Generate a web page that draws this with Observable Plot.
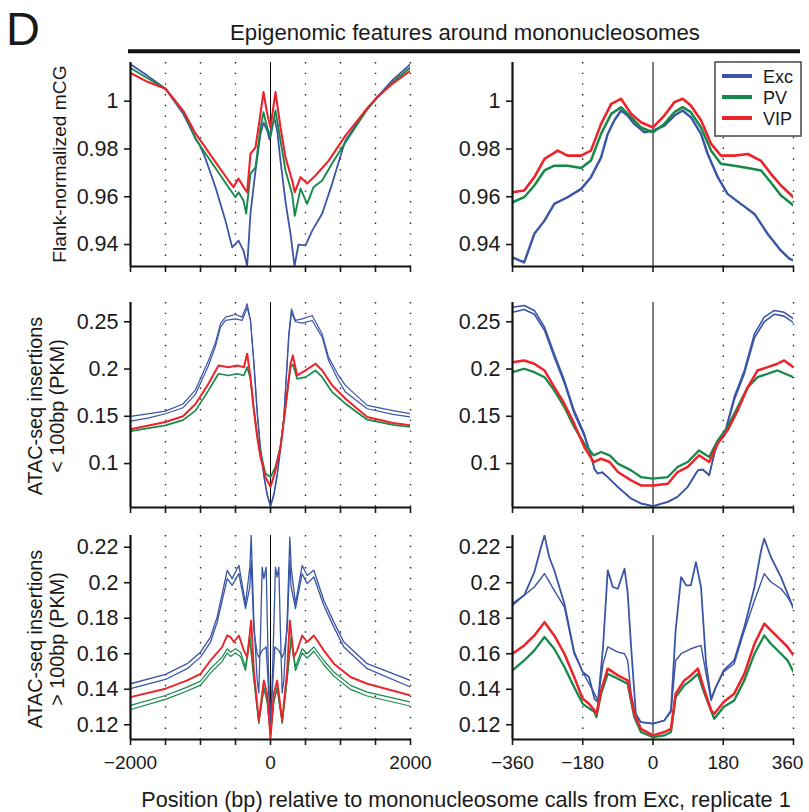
<!DOCTYPE html>
<html><head><meta charset="utf-8">
<script src="https://cdn.jsdelivr.net/npm/d3@7"></script>
<script src="https://cdn.jsdelivr.net/npm/@observablehq/plot@0.6"></script>
<style>
body{margin:0;background:#fff}
#fig{position:relative;width:809px;height:812px;font-family:"Liberation Sans",Arial,sans-serif;color:#1a1a1a;overflow:hidden}
#fig > svg{position:absolute}
</style>
</head><body><div id="fig"></div>
<script>
// ---------- categories / labels ----------
const categories = ["Exc", "PV", "VIP"];
const catColors = ["#3a55a6", "#17894a", "#ec2328"];
const titleText = "Epigenomic features around mononucleosomes";
const xAxisTitle = "Position (bp) relative to mononucleosome calls from Exc, replicate 1";
const rowLabels = [["Flank-normalized mCG"], ["ATAC-seq insertions", "< 100bp (PKM)"], ["ATAC-seq insertions", "> 100bp (PKM)"]];
const wideTicks = [-2000, -1500, -1000, -500, 0, 500, 1000, 1500, 2000];
const wideLabelled = [-2000, 0, 2000];
const narrowTicks = [-360, -180, 0, 180, 360];
const yTicksRow = [[0.94, 0.96, 0.98, 1], [0.1, 0.15, 0.2, 0.25], [0.12, 0.14, 0.16, 0.18, 0.2, 0.22]];
const yDomains = [[0.9308, 1.0162], [0.0535, 0.2704], [0.1117, 0.2266]];

// ---------- Row 1: flank-normalized mCG, wide window ----------
const mcgExcWide = [[-2000,1.0155],[-1750,1.0105],[-1500,1.0052],[-1243,0.9945],[-1071,0.9845],[-1000,0.981],[-929,0.976],[-786,0.964],[-643,0.950],[-547,0.9388],[-457,0.9416],[-386,0.9374],[-333,0.931],[-286,0.953],[-214,0.971],[-143,0.9864],[-100,0.991],[-47,0.9877],[-14,0.984],[14,0.989],[57,0.9927],[96,0.9877],[143,0.975],[214,0.958],[286,0.9445],[343,0.931],[400,0.940],[500,0.9396],[596,0.9458],[739,0.953],[881,0.9655],[1024,0.9794],[1071,0.9835],[1381,0.997],[1524,1.0017],[1750,1.009],[2000,1.0155]];
const mcgPvWide = [[-2000,1.0139],[-1750,1.0095],[-1500,1.0052],[-1243,0.9955],[-1071,0.9842],[-833,0.974],[-600,0.964],[-500,0.9598],[-457,0.9619],[-386,0.9584],[-347,0.953],[-286,0.9697],[-214,0.9723],[-143,0.989],[-100,0.9954],[-47,0.989],[0,0.985],[71,0.9961],[143,0.9835],[214,0.971],[310,0.961],[347,0.952],[429,0.9634],[524,0.957],[614,0.964],[739,0.9668],[881,0.974],[1071,0.9828],[1381,0.9965],[1524,1.0015],[1750,1.008],[2000,1.0142]];
const mcgVipWide = [[-2000,1.0118],[-1750,1.008],[-1500,1.0052],[-1243,0.9958],[-1071,0.9865],[-833,0.9765],[-600,0.9668],[-529,0.964],[-457,0.9676],[-371,0.9634],[-333,0.9619],[-286,0.978],[-214,0.9807],[-143,0.9948],[-100,1.0038],[-47,0.9948],[0,0.989],[71,1.0038],[143,0.989],[214,0.9765],[310,0.9668],[347,0.9619],[429,0.9682],[524,0.9655],[643,0.9689],[829,0.975],[1071,0.9856],[1381,0.997],[1524,1.0017],[1750,1.0075],[2000,1.0128]];

// ---------- Row 1: narrow window ----------
const mcgExcNarrow = [[-360,0.9346],[-330,0.9325],[-304,0.9445],[-278,0.950],[-253,0.957],[-219,0.9598],[-184,0.9633],[-159,0.9682],[-133,0.9765],[-116,0.9863],[-99,0.992],[-82,0.9961],[-65,0.994],[-48,0.9905],[-22,0.987],[0,0.9877],[29,0.9898],[55,0.994],[76,0.9961],[97,0.9933],[123,0.9863],[140,0.978],[166,0.9682],[191,0.9612],[225,0.957],[260,0.9528],[294,0.9444],[328,0.9374],[350,0.934],[360,0.9333]];
const mcgPvNarrow = [[-360,0.9577],[-330,0.9598],[-304,0.9647],[-278,0.971],[-253,0.973],[-219,0.973],[-184,0.972],[-159,0.9752],[-133,0.9863],[-107,0.9947],[-82,0.9975],[-56,0.9933],[-31,0.989],[0,0.987],[29,0.9905],[55,0.9954],[76,0.9975],[97,0.9954],[123,0.989],[149,0.9793],[174,0.9738],[208,0.973],[243,0.972],[277,0.971],[302,0.966],[328,0.9605],[360,0.9563]];
const mcgVipNarrow = [[-360,0.9619],[-330,0.9626],[-304,0.9682],[-278,0.9759],[-244,0.9793],[-219,0.9772],[-184,0.9772],[-159,0.9793],[-133,0.9905],[-107,0.9989],[-82,1.001],[-56,0.9947],[-31,0.9912],[0,0.989],[29,0.994],[55,0.9996],[76,1.001],[97,0.9982],[123,0.992],[149,0.9821],[174,0.9772],[208,0.9772],[243,0.9779],[277,0.975],[302,0.9696],[328,0.9647],[360,0.9598]];

// ---------- Row 2: ATAC < 100bp, wide window ----------
const shortExcAWide = [[-2000,0.1499],[-1750,0.1525],[-1500,0.1555],[-1250,0.163],[-1071,0.178],[-886,0.2091],[-786,0.228],[-714,0.248],[-643,0.2549],[-500,0.2577],[-405,0.2549],[-333,0.269],[-286,0.2514],[-238,0.209],[-190,0.1562],[-143,0.1175],[-95,0.0894],[-48,0.0682],[0,0.0558],[48,0.0682],[95,0.0894],[143,0.118],[190,0.149],[261,0.2376],[300,0.2637],[357,0.2514],[452,0.2531],[595,0.2567],[738,0.2373],[829,0.2126],[971,0.1932],[1071,0.1827],[1381,0.1615],[1750,0.156],[2000,0.1527]];
const shortExcBWide = [[-2000,0.1449],[-1750,0.148],[-1500,0.1527],[-1250,0.159],[-1071,0.1735],[-886,0.2038],[-786,0.224],[-714,0.2443],[-643,0.2514],[-500,0.2531],[-405,0.2514],[-333,0.265],[-286,0.2514],[-238,0.205],[-190,0.152],[-143,0.113],[-95,0.086],[-48,0.066],[0,0.054],[48,0.066],[95,0.086],[143,0.114],[190,0.146],[261,0.233],[300,0.26],[357,0.25],[452,0.2486],[595,0.2514],[738,0.2338],[829,0.2091],[971,0.1879],[1071,0.1756],[1381,0.158],[1750,0.152],[2000,0.1492]];
const shortPvWide = [[-2000,0.1344],[-1500,0.1404],[-1250,0.146],[-1071,0.156],[-886,0.1774],[-743,0.195],[-600,0.1932],[-476,0.195],[-381,0.1932],[-333,0.202],[-286,0.19],[-238,0.158],[-190,0.13],[-143,0.1122],[-71,0.0894],[0,0.0857],[71,0.0964],[143,0.118],[214,0.16],[286,0.202],[319,0.205],[381,0.1897],[500,0.1914],[643,0.1985],[739,0.1914],[881,0.1756],[1071,0.1633],[1381,0.1464],[1750,0.141],[2000,0.1386]];
const shortVipWide = [[-2000,0.1362],[-1500,0.1439],[-1250,0.150],[-1071,0.163],[-886,0.1845],[-743,0.2038],[-600,0.202],[-476,0.2038],[-381,0.202],[-333,0.2162],[-286,0.1914],[-238,0.1562],[-190,0.1281],[-143,0.1069],[-71,0.0857],[0,0.0752],[71,0.0928],[143,0.1175],[214,0.1598],[286,0.2056],[319,0.2144],[381,0.1932],[500,0.1985],[643,0.2056],[739,0.1985],[881,0.1827],[1071,0.1686],[1381,0.1492],[1750,0.143],[2000,0.1404]];

// ---------- Row 2: narrow window ----------
const shortExcANarrow = [[-360,0.2654],[-330,0.2672],[-304,0.262],[-278,0.2443],[-253,0.2162],[-227,0.188],[-202,0.1562],[-176,0.1316],[-160,0.11],[-150,0.0946],[-142,0.0893],[-130,0.091],[-116,0.0858],[-90,0.0752],[-56,0.0629],[-31,0.0576],[0,0.0548],[38,0.0594],[63,0.0646],[89,0.0752],[115,0.0928],[127,0.0935],[144,0.0875],[157,0.1105],[166,0.1245],[183,0.1316],[208,0.1703],[234,0.1985],[260,0.2373],[285,0.2549],[311,0.262],[336,0.26],[360,0.2532]];
const shortExcBNarrow = [[-360,0.260],[-330,0.263],[-304,0.258],[-278,0.241],[-253,0.2125],[-227,0.185],[-202,0.153],[-176,0.129],[-160,0.109],[-150,0.094],[-142,0.0895],[-130,0.0905],[-116,0.0855],[-90,0.075],[-56,0.063],[-31,0.058],[0,0.055],[38,0.0595],[63,0.065],[89,0.0755],[115,0.093],[127,0.094],[144,0.088],[157,0.11],[166,0.123],[183,0.129],[208,0.167],[234,0.195],[260,0.233],[285,0.25],[311,0.258],[336,0.256],[360,0.249]];
const shortPvNarrow = [[-360,0.1967],[-330,0.2003],[-304,0.1967],[-278,0.1914],[-253,0.1774],[-227,0.1597],[-202,0.1386],[-176,0.1211],[-152,0.1087],[-133,0.1122],[-111,0.1087],[-90,0.0999],[-56,0.0928],[-31,0.0857],[0,0.084],[38,0.0857],[63,0.0964],[89,0.1016],[118,0.1139],[144,0.1069],[166,0.1245],[191,0.1386],[217,0.1597],[243,0.1809],[268,0.1914],[294,0.195],[319,0.1985],[360,0.1914]];
const shortVipNarrow = [[-360,0.2073],[-330,0.2091],[-304,0.2056],[-278,0.1985],[-253,0.1809],[-227,0.1633],[-202,0.1422],[-176,0.1175],[-152,0.1016],[-133,0.1051],[-111,0.1016],[-90,0.091],[-56,0.0822],[-31,0.0769],[0,0.0769],[38,0.0787],[63,0.091],[89,0.0964],[118,0.1087],[144,0.1016],[166,0.1211],[191,0.1351],[217,0.1562],[243,0.1809],[268,0.1985],[294,0.202],[319,0.2056],[336,0.2091],[360,0.202]];

// ---------- Row 3: ATAC > 100bp, wide window ----------
const longExcAWide = [[-2000,0.1431],[-1500,0.1484],[-1190,0.1544],[-1000,0.1609],[-857,0.1694],[-762,0.1807],[-690,0.1938],[-619,0.207],[-548,0.2023],[-452,0.2098],[-357,0.1882],[-295,0.2088],[-276,0.2267],[-238,0.1788],[-190,0.145],[-167,0.138],[-140,0.175],[-119,0.2088],[-95,0.2023],[-62,0.2088],[-30,0.1506],[0,0.1187],[30,0.1506],[71,0.2088],[95,0.2032],[119,0.2088],[140,0.175],[167,0.138],[190,0.145],[238,0.1788],[276,0.2257],[295,0.2088],[357,0.1882],[452,0.2098],[524,0.2041],[619,0.207],[762,0.19],[905,0.1778],[1048,0.1666],[1381,0.1544],[2000,0.145]];
const longExcBWide = [[-2000,0.1403],[-1500,0.1455],[-1190,0.1516],[-1000,0.1581],[-857,0.1666],[-762,0.1778],[-690,0.19],[-619,0.2023],[-548,0.1985],[-452,0.2051],[-357,0.1854],[-295,0.1976],[-276,0.2126],[-238,0.1731],[-190,0.16],[-167,0.1581],[-119,0.1619],[-62,0.1638],[-30,0.1412],[0,0.1206],[30,0.1412],[62,0.1638],[119,0.1619],[167,0.1581],[190,0.16],[238,0.1731],[276,0.2126],[295,0.1976],[357,0.1854],[452,0.2051],[524,0.1995],[619,0.2032],[762,0.1872],[905,0.175],[1048,0.1638],[1381,0.1516],[2000,0.1412]];
const longPvAWide = [[-2000,0.1309],[-1500,0.1365],[-1190,0.1412],[-1000,0.1446],[-857,0.1516],[-690,0.1581],[-619,0.1628],[-571,0.1609],[-500,0.1628],[-429,0.1609],[-357,0.1525],[-295,0.1703],[-238,0.1469],[-167,0.1215],[-95,0.1412],[-48,0.1337],[0,0.1149],[48,0.1337],[95,0.1412],[167,0.1215],[238,0.1469],[295,0.1703],[357,0.1525],[452,0.1628],[524,0.16],[619,0.1638],[762,0.1562],[905,0.1497],[1143,0.1422],[1381,0.1384],[2000,0.1328]];
const longPvBWide = [[-2000,0.1286],[-1500,0.1343],[-1190,0.139],[-1000,0.1423],[-857,0.1491],[-690,0.1557],[-619,0.1604],[-571,0.1585],[-500,0.1604],[-429,0.1585],[-357,0.1506],[-295,0.1675],[-238,0.145],[-167,0.1206],[-95,0.1403],[-48,0.1328],[0,0.114],[48,0.1328],[95,0.1403],[167,0.1206],[238,0.145],[295,0.1675],[357,0.1506],[452,0.1604],[524,0.1576],[619,0.1614],[762,0.1538],[905,0.1474],[1143,0.1399],[1381,0.1362],[2000,0.1305]];
const longVipWide = [[-2000,0.1356],[-1500,0.1403],[-1190,0.145],[-1000,0.1487],[-857,0.1562],[-690,0.1638],[-619,0.1703],[-571,0.1694],[-524,0.1666],[-452,0.1703],[-381,0.1619],[-333,0.1581],[-276,0.1788],[-238,0.1506],[-167,0.1224],[-95,0.145],[-48,0.1375],[0,0.1121],[48,0.1375],[95,0.145],[167,0.1224],[238,0.1506],[276,0.1788],[333,0.1581],[381,0.1619],[452,0.1703],[524,0.1666],[619,0.1703],[762,0.1619],[905,0.1544],[1143,0.1469],[1381,0.1431],[2000,0.1365]];

// ---------- Row 3: narrow window ----------
const longExcANarrow = [[-360,0.1882],[-330,0.1929],[-304,0.206],[-287,0.22],[-278,0.2267],[-266,0.2145],[-253,0.207],[-227,0.1882],[-202,0.161],[-180,0.1497],[-164,0.1469],[-150,0.1346],[-141,0.1328],[-128,0.1638],[-116,0.207],[-103,0.1976],[-90,0.1966],[-73,0.2079],[-65,0.1947],[-56,0.1638],[-44,0.1262],[-31,0.1215],[0,0.1206],[29,0.1224],[46,0.128],[58,0.1731],[72,0.2032],[85,0.1985],[97,0.1985],[110,0.2116],[123,0.1976],[136,0.1544],[149,0.1346],[161,0.1412],[181,0.1506],[208,0.1562],[234,0.175],[260,0.1976],[277,0.2182],[285,0.2248],[302,0.2145],[328,0.2032],[345,0.1938],[360,0.1854]];
const longExcBNarrow = [[-360,0.1872],[-330,0.1929],[-304,0.1976],[-278,0.2051],[-253,0.1957],[-227,0.1863],[-202,0.16],[-180,0.1497],[-150,0.1375],[-141,0.1337],[-128,0.1544],[-116,0.1638],[-90,0.1609],[-73,0.16],[-65,0.1562],[-56,0.1375],[-44,0.1243],[-31,0.1215],[0,0.1206],[29,0.1224],[46,0.1271],[58,0.1562],[72,0.16],[97,0.1628],[123,0.1647],[136,0.1487],[149,0.1337],[161,0.1412],[181,0.1497],[208,0.1544],[234,0.173],[260,0.19],[285,0.2051],[302,0.2004],[328,0.1966],[345,0.1919],[360,0.1863]];
const longPvNarrow = [[-360,0.1506],[-330,0.1562],[-304,0.1619],[-278,0.1694],[-253,0.1628],[-227,0.1525],[-202,0.1412],[-180,0.1318],[-150,0.1271],[-145,0.1243],[-133,0.1375],[-116,0.1487],[-90,0.1459],[-65,0.1431],[-48,0.1243],[-31,0.1159],[0,0.113],[29,0.114],[46,0.1159],[58,0.1356],[80,0.1422],[97,0.145],[115,0.1487],[132,0.1375],[157,0.1234],[181,0.13],[208,0.1337],[234,0.145],[260,0.16],[285,0.1703],[302,0.1656],[328,0.16],[345,0.1562],[360,0.1497]];
const longVipNarrow = [[-360,0.16],[-330,0.1647],[-304,0.1703],[-278,0.1778],[-253,0.1703],[-227,0.16],[-202,0.1469],[-180,0.1346],[-164,0.1318],[-150,0.1281],[-145,0.1262],[-133,0.1393],[-116,0.1516],[-90,0.1478],[-65,0.145],[-48,0.1262],[-31,0.1177],[0,0.114],[29,0.1159],[46,0.1177],[58,0.1375],[80,0.145],[97,0.1478],[115,0.1516],[132,0.1393],[149,0.1281],[157,0.1262],[181,0.1328],[208,0.1375],[234,0.1487],[260,0.1656],[285,0.1769],[302,0.1731],[328,0.1675],[345,0.1638],[360,0.1591]];

// ---------- panel assembly ----------
const panels = [
  {row: 0, col: 0, series: [[mcgExcWide, 0, 1.8], [mcgPvWide, 1, 1.9], [mcgVipWide, 2, 2.1]]},
  {row: 0, col: 1, series: [[mcgExcNarrow, 0, 2.4], [mcgPvNarrow, 1, 2.5], [mcgVipNarrow, 2, 2.6]]},
  {row: 1, col: 0, series: [[shortExcAWide, 0, 1.2], [shortExcBWide, 0, 1.2], [shortPvWide, 1, 1.7], [shortVipWide, 2, 2.0]]},
  {row: 1, col: 1, series: [[shortExcANarrow, 0, 1.6], [shortExcBNarrow, 0, 1.6], [shortPvNarrow, 1, 2.3], [shortVipNarrow, 2, 2.5]]},
  {row: 2, col: 0, series: [[longExcAWide, 0, 1.3], [longExcBWide, 0, 1.3], [longPvAWide, 1, 1.2], [longPvBWide, 1, 1.2], [longVipWide, 2, 1.9]]},
  {row: 2, col: 1, series: [[longExcANarrow, 0, 1.8], [longExcBNarrow, 0, 1.4], [longPvNarrow, 1, 2.3], [longVipNarrow, 2, 2.5]]}
];

const fig = document.getElementById("fig");
const minus = d => d < 0 ? "\u2212" + (-d) : String(d);
const colBox = [{left: 0, width: 412, ml: 130, mr: 2}, {left: 412, width: 397, ml: 100, mr: 16}];
const rowBox = [{top: 52, height: 224, mt: 10, mb: 10}, {top: 292, height: 225, mt: 10, mb: 10}, {top: 525, height: 256, mt: 10, mb: 42}];

// overlay with titles, labels
const ov = d3.create("svg").attr("width", 809).attr("height", 812).style("left", "0px").style("top", "0px")
  .style("font-family", '"Liberation Sans", Arial, sans-serif').attr("fill", "#1a1a1a");
ov.append("text").attr("x", 6).attr("y", 45).attr("font-size", 47).text("D");
ov.append("text").attr("x", 465).attr("y", 40).attr("text-anchor", "middle").attr("font-size", 22.2).text(titleText);
ov.append("line").attr("x1", 128).attr("x2", 800).attr("y1", 51.3).attr("y2", 51.3).attr("stroke", "#111").attr("stroke-width", 4);
ov.append("text").attr("x", 466).attr("y", 807).attr("text-anchor", "middle").attr("font-size", 21.6).text(xAxisTitle);
const rowCenters = [164, 406, 639];
const rowFont = [19.2, 19.8, 19.8];
rowLabels.forEach((lines, i) => {
  const baselines = lines.length === 1 ? [66] : [42, 64];
  lines.forEach((t, j) => {
    ov.append("text").attr("transform", `translate(${baselines[j]},${rowCenters[i]}) rotate(-90)`)
      .attr("text-anchor", "middle").attr("font-size", rowFont[i]).text(t);
  });
});
fig.appendChild(ov.node());

panels.forEach(p => {
  const c = colBox[p.col], r = rowBox[p.row];
  const wide = p.col === 0;
  const xDomain = wide ? [-2000, 2000] : [-360, 360];
  const xTicks = wide ? wideTicks : narrowTicks;
  const grid = xTicks.filter(t => t !== 0 && t !== xDomain[0]);
  const bottomRow = p.row === 2;
  const chart = Plot.plot({
    width: c.width, height: r.height,
    marginLeft: c.ml, marginRight: c.mr, marginTop: r.mt, marginBottom: r.mb,
    style: {background: "none", fontFamily: '"Liberation Sans", Arial, sans-serif', fontSize: "21.5px", color: "#1a1a1a", overflow: "visible"},
    x: {domain: xDomain, ticks: xTicks, tickSize: 6, tickPadding: 10, label: null,
        tickFormat: d => !bottomRow ? "" : (wide ? (wideLabelled.includes(d) ? minus(d) : "") : minus(d))},
    y: {domain: yDomains[p.row], ticks: yTicksRow[p.row], tickSize: 6, tickPadding: 6, label: null,
        tickFormat: d => String(d)},
    marks: [
      Plot.ruleX(grid, {stroke: "#222", strokeWidth: 1.4, strokeDasharray: "1.4,9.3"}),
      Plot.ruleX([0], {stroke: "#000", strokeWidth: 1}),
      ...p.series.map(([data, ci, w]) => Plot.line(data, {x: d => d[0], y: d => d[1], stroke: catColors[ci], strokeWidth: w, clip: true})),
      Plot.ruleY([yDomains[p.row][0]], {stroke: "#111", strokeWidth: 2.2}),
      Plot.ruleX([xDomain[0]], {stroke: "#111", strokeWidth: 2.2})
    ]
  });
  chart.style.left = c.left + "px";
  chart.style.top = r.top + "px";
  chart.style.position = "absolute";
  const sel = d3.select(chart);
  sel.selectAll('g[aria-label$="tick"] path, g[aria-label$="axis"] path').attr("stroke-width", 1.6);
  // x tick labels slightly smaller; keep the right-most label inside the figure
  sel.selectAll('g[aria-label^="x-axis"] text').style("font-size", "19px").each(function() {
    if (this.textContent === "360") d3.select(this).attr("dx", "-6");
  });
  fig.appendChild(chart);
});

// legend (top-right panel)
const lg = d3.create("svg").attr("width", 88).attr("height", 76).style("left", "714px").style("top", "61px")
  .style("font-family", '"Liberation Sans", Arial, sans-serif');
lg.append("rect").attr("x", 1).attr("y", 1).attr("width", 86).attr("height", 74).attr("fill", "#fff").attr("stroke", "#444").attr("stroke-width", 1.5);
categories.forEach((cat, i) => {
  const cy = 15 + i * 21;
  lg.append("line").attr("x1", 8).attr("x2", 38).attr("y1", cy).attr("y2", cy).attr("stroke", catColors[i]).attr("stroke-width", 4);
  lg.append("text").attr("x", 49).attr("y", cy + 6.5).attr("font-size", 18).attr("fill", "#1a1a1a").text(cat);
});
fig.appendChild(lg.node());
</script>
</body></html>
